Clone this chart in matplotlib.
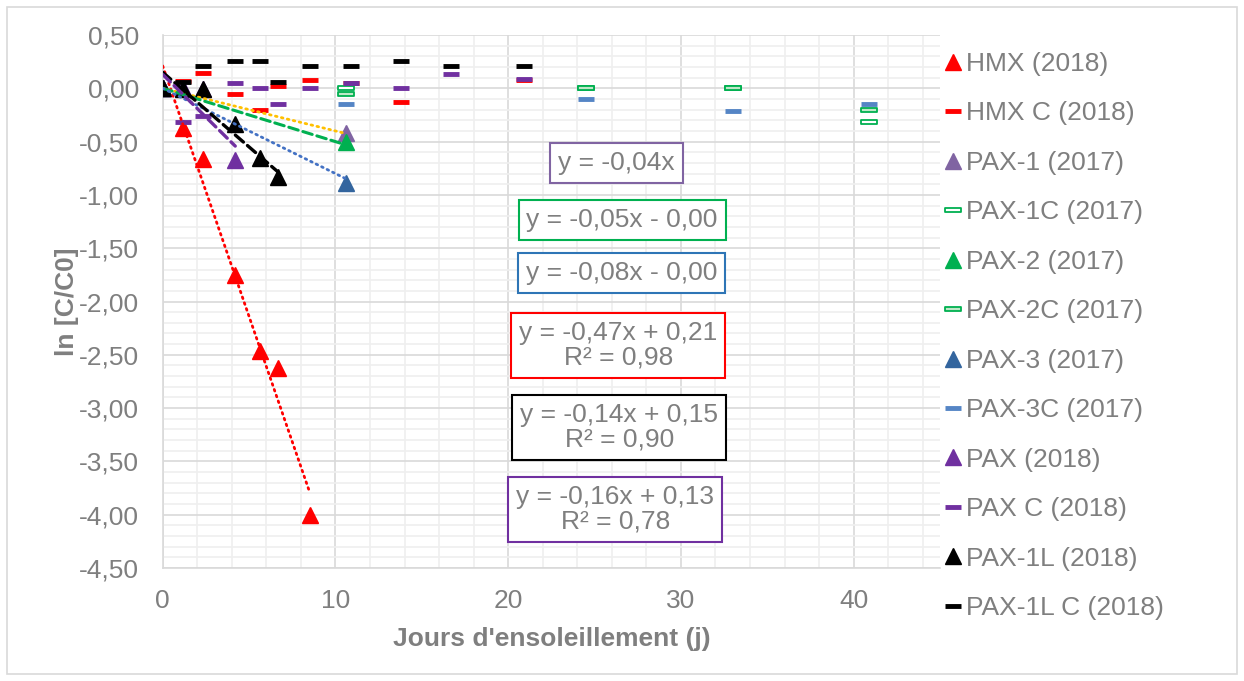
import matplotlib
matplotlib.use("Agg")
import matplotlib.pyplot as plt
from matplotlib.patches import Rectangle
from matplotlib.path import Path
from matplotlib.ticker import MultipleLocator, FuncFormatter
import numpy as np

plt.rcParams['font.family'] = ['Liberation Sans', 'DejaVu Sans']

# ---- data: ln(C/C0) versus sunshine days ----
hmx_x = [0, 1.19, 2.35, 4.2, 5.66, 6.65, 8.5]
hmx_y = [0, -0.37, -0.66, -1.75, -2.46, -2.62, -4.00]
hmxc_x = [1.19, 2.35, 4.2, 5.66, 6.65, 8.5, 10.92, 13.8, 20.94]
hmxc_y = [0.07, 0.14, -0.05, -0.20, 0.02, 0.08, 0.05, -0.13, 0.08]

pax1_x = [0, 10.64]
pax1_y = [0, -0.42]
pax1c_x = [10.64, 24.5, 33.0, 40.9]
pax1c_y = [0.0, 0.0, 0.0, -0.32]

pax2_x = [0, 10.64]
pax2_y = [0, -0.50]
pax2c_x = [10.64, 24.5, 33.0, 40.9]
pax2c_y = [-0.05, 0.0, 0.0, -0.20]

pax3_x = [0, 10.64]
pax3_y = [0, -0.885]
pax3c_x = [10.64, 24.5, 33.0, 40.9]
pax3c_y = [-0.15, -0.10, -0.21, -0.15]

pax18_x = [0, 1.19, 2.35, 4.2]
pax18_y = [0, 0.0, -0.01, -0.67]
pax18c_x = [1.19, 2.35, 4.2, 5.66, 6.65, 8.5, 10.92, 13.8, 16.7, 20.94]
pax18c_y = [-0.32, -0.26, 0.05, 0.0, -0.15, 0.0, 0.05, 0.0, 0.13, 0.09]

pax1l_x = [0, 1.19, 2.35, 4.2, 5.66, 6.65]
pax1l_y = [0, -0.01, -0.01, -0.335, -0.65, -0.83]
pax1lc_x = [1.19, 2.35, 4.2, 5.66, 6.65, 8.5, 10.92, 13.8, 16.7, 20.94]
pax1lc_y = [0.06, 0.21, 0.26, 0.26, 0.06, 0.21, 0.21, 0.26, 0.21, 0.21]

# linear trends (slope, intercept, R² text)
trend_pax1 = (-0.04, 0.0)
trend_pax2 = (-0.05, 0.0)
trend_pax3 = (-0.08, 0.0)
trend_hmx = (-0.47, 0.21, "0,98")
trend_pax1l = (-0.14, 0.15, "0,90")
trend_pax18 = (-0.16, 0.13, "0,78")

GREY = "#7F7F7F"
W, H = 1244, 681
fig = plt.figure(figsize=(W / 100, H / 100), dpi=100)
ax = fig.add_axes([162.7 / W, 1 - 568 / H, (940 - 162.7) / W, (568 - 35) / H])

# outer chart border
fig.patches.append(Rectangle((7 / W, 7 / H), (W - 14) / W, (H - 14) / H,
                             transform=fig.transFigure, fill=False,
                             edgecolor="#D9D9D9", linewidth=1.2))

ax.set_xlim(0, 45)
ax.set_ylim(-4.5, 0.5)
ax.xaxis.set_major_locator(MultipleLocator(10))
ax.xaxis.set_minor_locator(MultipleLocator(2))
ax.yaxis.set_major_locator(MultipleLocator(0.5))
ax.yaxis.set_minor_locator(MultipleLocator(0.1))
ax.grid(which="minor", color="#EFEFEF", linewidth=1.2, zorder=0)
ax.grid(which="major", color="#D9D9D9", linewidth=1.2, zorder=0)
ax.set_axisbelow(True)
for s in ["top", "right"]:
    ax.spines[s].set_visible(False)
for s in ["left", "bottom"]:
    ax.spines[s].set_color("#D9D9D9")
    ax.spines[s].set_linewidth(1.2)
ax.tick_params(which="both", length=0)
ax.tick_params(axis="y", pad=17, labelsize=19, labelcolor=GREY)
ax.tick_params(axis="x", pad=15, labelsize=19, labelcolor=GREY)
ax.yaxis.set_major_formatter(FuncFormatter(lambda v, p: f"{v:.2f}".replace(".", ",")))
ax.xaxis.set_major_formatter(FuncFormatter(lambda v, p: f"{v:.0f}"))

ax.set_xlabel("Jours d'ensoleillement (j)", fontsize=19, fontweight="bold",
              color=GREY, labelpad=10)
ax.set_ylabel("ln [C/C0]", fontsize=19, fontweight="bold", color=GREY, labelpad=0)

# hollow bar marker for control series
bar = Path([(-1, -0.26), (1, -0.26), (1, 0.26), (-1, 0.26), (-1, -0.26)],
           [Path.MOVETO, Path.LINETO, Path.LINETO, Path.LINETO, Path.CLOSEPOLY])

TRI = dict(marker="^", markersize=12, linestyle="none")
DASH = dict(marker="_", markersize=12, markeredgewidth=3.5, linestyle="none")
HOLLOW = dict(marker=bar, markersize=12, markeredgewidth=1.3, linestyle="none")

series = [
    (hmx_x, hmx_y, dict(TRI, color="#FF0000"), "HMX (2018)"),
    (hmxc_x, hmxc_y, dict(DASH, color="#FF0000"), "HMX C (2018)"),
    (pax1_x, pax1_y, dict(TRI, color="#8064A2"), "PAX-1 (2017)"),
    (pax1c_x, pax1c_y, dict(HOLLOW, markerfacecolor="white", markeredgecolor="#00B050"), "PAX-1C (2017)"),
    (pax2_x, pax2_y, dict(TRI, color="#00B050"), "PAX-2 (2017)"),
    (pax2c_x, pax2c_y, dict(HOLLOW, markerfacecolor="#BFE8C8", markeredgecolor="#00B050"), "PAX-2C (2017)"),
    (pax3_x, pax3_y, dict(TRI, color="#33659E"), "PAX-3 (2017)"),
    (pax3c_x, pax3c_y, dict(DASH, color="#5585C5"), "PAX-3C (2017)"),
    (pax18_x, pax18_y, dict(TRI, color="#7030A0"), "PAX (2018)"),
    (pax18c_x, pax18c_y, dict(DASH, color="#7030A0"), "PAX C (2018)"),
    (pax1l_x, pax1l_y, dict(TRI, color="#000000"), "PAX-1L (2018)"),
    (pax1lc_x, pax1lc_y, dict(DASH, color="#000000"), "PAX-1L C (2018)"),
]
handles = []
for i, (xs, ys, style, label) in enumerate(series):
    ln, = ax.plot(xs, ys, label=label, zorder=3 + i * 0.01, **style)
    handles.append(ln)


def trend(xs, coef, color, ls, lw=2.0):
    xx = np.array([min(xs), max(xs)])
    yy = coef[0] * xx + coef[1]
    ax.plot(xx, yy, color=color, linestyle=ls, linewidth=lw,
            dash_capstyle="round", solid_capstyle="round", zorder=4)


dot = (0, (0.6, 1.6))
dash = (0, (3.2, 1.6))
trend(hmx_x, trend_hmx, "#FF0000", dot)
trend(pax1_x, trend_pax1, "#FFC000", dot)
trend(pax2_x, trend_pax2, "#00B050", dash, 2.2)
trend(pax3_x, trend_pax3, "#4472C4", dot)
trend(pax1l_x, trend_pax1l, "#000000", dash, 2.4)
trend(pax18_x, trend_pax18, "#7030A0", dash, 2.4)


def num(v):
    return f"{abs(v):.2f}".replace(".", ",")


def eq_text(coef, force_zero=False):
    s = f"y = -{num(coef[0])}x"
    if len(coef) > 2:
        sign = "+" if coef[1] >= 0 else "-"
        s += f" {sign} {num(coef[1])}\nR² = {coef[2]}"
    elif force_zero:
        s += f" - {num(coef[1])}"
    return s


boxes = [
    (26.26, -0.70, eq_text(trend_pax1), "#8064A2"),
    (26.6, -1.235, eq_text(trend_pax2, True), "#00B050"),
    (26.55, -1.73, eq_text(trend_pax3, True), "#2E75B6"),
    (26.38, -2.41, eq_text(trend_hmx), "#FF0000"),
    (26.43, -3.18, eq_text(trend_pax1l), "#000000"),
    (26.2, -3.95, eq_text(trend_pax18), "#7030A0"),
]
for bx, by, txt, ec in boxes:
    ax.text(bx, by, txt, ha="center", va="center", fontsize=19, color=GREY,
            linespacing=1.05, zorder=6,
            bbox=dict(boxstyle="square,pad=0.3", facecolor="white",
                      edgecolor=ec, linewidth=1.5))

fig.legend(handles=handles, loc="upper left",
           bbox_to_anchor=(943.5 / W, 1 - 52 / H), frameon=False,
           fontsize=19, labelcolor=GREY, handlelength=0.7, handletextpad=0.15,
           borderpad=0, borderaxespad=0, labelspacing=0.965, markerscale=1.0)

fig.savefig("out.png", dpi=100)
